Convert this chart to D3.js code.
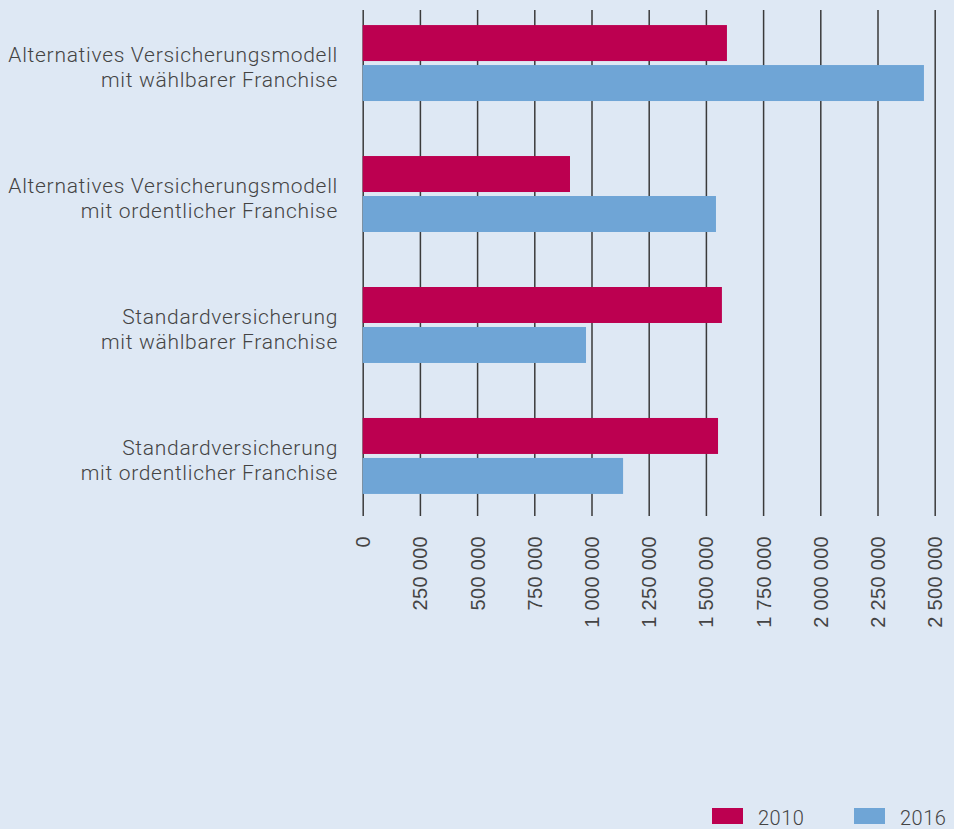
<!DOCTYPE html>
<html>
<head>
<meta charset="utf-8">
<script src="https://cdn.jsdelivr.net/npm/d3@7"></script>
<style>
  html, body { margin: 0; padding: 0; background: #dee8f4; }
  svg { display: block; font-family: Roboto, "Noto Sans", sans-serif; font-weight: 300; }
  .axis path { display: none; }
  .axis line { stroke: #3a3a3a; stroke-width: 1.5; }
  .axis text { fill: #444; font-size: 20px; letter-spacing: 0.3px; }
</style>
</head>
<body>
<div id="chart"></div>
<script>
// categories (two text lines each)
var categories = [
  ["Alternatives Versicherungsmodell", "mit wählbarer Franchise"],
  ["Alternatives Versicherungsmodell", "mit ordentlicher Franchise"],
  ["Standardversicherung", "mit wählbarer Franchise"],
  ["Standardversicherung", "mit ordentlicher Franchise"]
];
var series = ["2010", "2016"];
var values2010 = [1592000, 906000, 1570000, 1553000];
var values2016 = [2453000, 1544000, 976000, 1138000];
var tickValues = [0, 250000, 500000, 750000, 1000000, 1250000, 1500000, 1750000, 2000000, 2250000, 2500000];

var colors = { "2010": "#bc0050", "2016": "#6fa5d6" };

var width = 954, height = 829;
var plotLeft = 362.7, plotRight = 934.7, plotTop = 10, plotBottom = 516;

var data = categories.map(function(c, i) {
  return { cat: i, label: c, "2010": values2010[i], "2016": values2016[i] };
});

var svg = d3.select("#chart").append("svg")
  .attr("width", width)
  .attr("height", height);

svg.append("rect").attr("width", width).attr("height", height).attr("fill", "#dee8f4");

var x = d3.scaleLinear().domain([0, 2500000]).range([plotLeft, plotRight]);

var y0 = d3.scaleBand()
  .domain(d3.range(categories.length))
  .range([plotTop, 509])
  .paddingInner(0.42)
  .paddingOuter(0.115);

var y1 = d3.scaleBand()
  .domain(series)
  .range([0, y0.bandwidth()])
  .paddingInner(0.1);

var locale = d3.formatLocale({ decimal: ",", thousands: " ", grouping: [3], currency: ["", ""] });
var fmt = locale.format(",");

//axis with gridlines
var xAxis = d3.axisBottom(x)
  .tickValues(tickValues)
  .tickSize(-(plotBottom - plotTop))
  .tickFormat(fmt);

var gx = svg.append("g")
  .attr("class", "x axis")
  .attr("transform", "translate(0," + plotBottom + ")")
  .call(xAxis);

gx.selectAll("text")
  .attr("text-anchor", "end")
  .attr("transform", "translate(0,20) rotate(-90)")
  .attr("x", 0)
  .attr("y", 0)
  .attr("dy", "0.35em");

//bars
var groups = svg.selectAll(".grp")
  .data(data)
  .enter().append("g")
  .attr("class", "grp")
  .attr("transform", function(d) { return "translate(0," + y0(d.cat) + ")"; });

groups.selectAll("rect")
  .data(function(d) { return series.map(function(s) { return { key: s, value: d[s] }; }); })
  .enter().append("rect")
  .attr("x", x(0))
  .attr("y", function(d) { return y1(d.key); })
  .attr("width", function(d) { return x(d.value) - x(0); })
  .attr("height", y1.bandwidth())
  .attr("fill", function(d) { return colors[d.key]; });

//category labels
groups.append("text")
  .attr("text-anchor", "end")
  .attr("fill", "#444")
  .style("font-size", "21px")
  .style("letter-spacing", "0.7px")
  .selectAll("tspan")
  .data(function(d) { return d.label; })
  .enter().append("tspan")
  .attr("x", 338)
  .attr("y", function(d, i) { return y0.bandwidth() / 2 - 1 + i * 25; })
  .text(function(d) { return d; });

//legend
var legend = svg.selectAll(".legend")
  .data(series)
  .enter().append("g")
  .attr("class", "legend")
  .attr("transform", function(d, i) { return "translate(" + (712 + i * 142) + ",808)"; });

legend.append("rect")
  .attr("width", 31)
  .attr("height", 16)
  .attr("fill", function(d) { return colors[d]; });

legend.append("text")
  .attr("x", 46)
  .attr("y", 17)
  .attr("fill", "#444")
  .style("font-size", "20px")
  .style("letter-spacing", "0.5px")
  .text(function(d) { return d; });
</script>
</body>
</html>
